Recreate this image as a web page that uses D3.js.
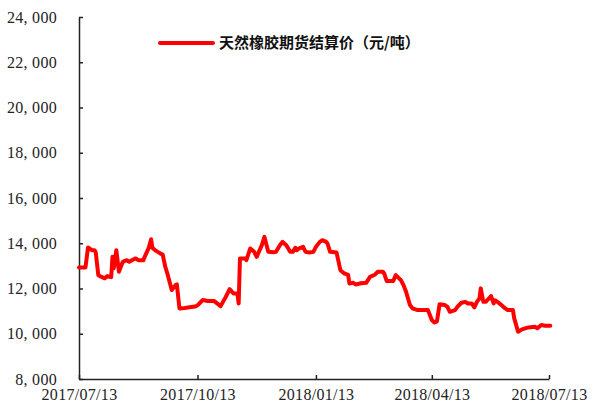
<!DOCTYPE html>
<html>
<head>
<meta charset="utf-8">
<script src="https://cdn.jsdelivr.net/npm/d3@7"></script>
<style>
  body { margin: 0; background: #fff; }
</style>
</head>
<body>
<div id="chart"></div>
<script>
const seriesName = "天然橡胶期货结算价（元/吨）";

const dates = [
  "2017-07-13", "2017-07-18", "2017-07-20", "2017-07-23", "2017-07-25", "2017-07-26",
  "2017-07-28", "2017-07-31", "2017-08-02", "2017-08-04", "2017-08-07", "2017-08-08",
  "2017-08-09", "2017-08-11", "2017-08-13", "2017-08-16", "2017-08-19", "2017-08-21",
  "2017-08-23", "2017-08-26", "2017-08-28", "2017-09-01", "2017-09-02", "2017-09-05",
  "2017-09-07", "2017-09-08", "2017-09-10", "2017-09-14", "2017-09-16", "2017-09-18",
  "2017-09-20", "2017-09-23", "2017-09-26", "2017-09-27", "2017-09-29", "2017-10-03",
  "2017-10-11", "2017-10-13", "2017-10-17", "2017-10-21", "2017-10-26", "2017-10-31",
  "2017-11-04", "2017-11-07", "2017-11-10", "2017-11-13", "2017-11-14", "2017-11-15",
  "2017-11-19", "2017-11-20", "2017-11-23", "2017-11-26", "2017-11-28", "2017-12-02",
  "2017-12-04", "2017-12-07", "2017-12-11", "2017-12-13", "2017-12-16", "2017-12-18",
  "2017-12-21", "2017-12-24", "2017-12-26", "2017-12-28", "2017-12-29", "2017-12-31",
  "2018-01-03", "2018-01-05", "2018-01-08", "2018-01-11", "2018-01-13", "2018-01-16",
  "2018-01-18", "2018-01-21", "2018-01-22", "2018-01-24", "2018-01-29", "2018-01-30",
  "2018-02-01", "2018-02-04", "2018-02-07", "2018-02-08", "2018-02-11", "2018-02-13",
  "2018-02-17", "2018-02-21", "2018-02-24", "2018-02-28", "2018-03-02", "2018-03-06",
  "2018-03-07", "2018-03-09", "2018-03-14", "2018-03-16", "2018-03-20", "2018-03-22",
  "2018-03-24", "2018-03-27", "2018-03-29", "2018-04-02", "2018-04-10", "2018-04-13",
  "2018-04-15", "2018-04-17", "2018-04-19", "2018-04-23", "2018-04-25", "2018-04-27",
  "2018-05-01", "2018-05-03", "2018-05-06", "2018-05-09", "2018-05-11", "2018-05-14",
  "2018-05-16", "2018-05-18", "2018-05-20", "2018-05-21", "2018-05-23", "2018-05-25",
  "2018-05-26", "2018-05-29", "2018-05-31", "2018-06-01", "2018-06-03", "2018-06-06",
  "2018-06-09", "2018-06-11", "2018-06-15", "2018-06-16", "2018-06-19", "2018-06-22",
  "2018-06-27", "2018-07-02", "2018-07-04", "2018-07-07", "2018-07-10", "2018-07-14"
];

const prices = [
  12930, 12930, 13815, 13695, 13695, 13600,
  12590, 12500, 12450, 12550, 12500, 13400,
  12900, 13695, 12737, 13180, 13250, 13180,
  13250, 13330, 13250, 13250, 13400, 13770,
  14180, 13800, 13695, 13550, 13500, 12960,
  12590, 11930, 12150, 12180, 11120, 11140,
  11200, 11250, 11490, 11445, 11445, 11220,
  11630, 11970, 11780, 11780, 11340, 13330,
  13330, 13255, 13770, 13620, 13400, 13915,
  14280, 13620, 13600, 13620, 13915, 14060,
  13915, 13620, 13620, 13800, 13690, 13770,
  13840, 13620, 13590, 13620, 13840, 14060,
  14135, 14060, 13990, 13620, 13590, 13330,
  12810, 12665, 12600, 12225, 12250, 12180,
  12230, 12250, 12515, 12620, 12740, 12740,
  12665, 12330, 12330, 12590, 12370, 12150,
  11855, 11270, 11120, 11045, 11045, 10605,
  10500, 10550, 11300, 11270, 11200, 10970,
  11045, 11200, 11370, 11410, 11340, 11340,
  11165, 11410, 11560, 12005, 11410, 11410,
  11480, 11665, 11340, 11480, 11410, 11270,
  11120, 11045, 11045, 10680, 10090, 10195,
  10280, 10310, 10240, 10385, 10350, 10350
];

const xTickLabels = ["2017/07/13", "2017/10/13", "2018/01/13", "2018/04/13", "2018/07/13"];
const yTicks = [8000, 10000, 12000, 14000, 16000, 18000, 20000, 22000, 24000];

const width = 592, height = 408;
const margin = { top: 17, right: 43, bottom: 29, left: 79 };

const parseDate = d3.timeParse("%Y-%m-%d");
const parseTick = d3.timeParse("%Y/%m/%d");
const data = dates.map((d, i) => ({ date: parseDate(d), value: prices[i] }));

const x = d3.scaleTime()
  .domain([parseTick(xTickLabels[0]), parseTick(xTickLabels[xTickLabels.length - 1])])
  .range([margin.left, width - margin.right]);

const y = d3.scaleLinear()
  .domain([8000, 24000])
  .range([height - margin.bottom, margin.top]);

const svg = d3.select("#chart").append("svg")
  .attr("width", width)
  .attr("height", height);

const fmt = (d) => d3.format(",")(d).replace(",", ", ");

svg.append("g")
  .attr("transform", `translate(${margin.left},0)`)
  .call(d3.axisLeft(y).tickValues(yTicks).tickFormat(fmt).tickSizeInner(-4).tickSizeOuter(0).tickPadding(22));

svg.append("g")
  .attr("transform", `translate(0,${height - margin.bottom})`)
  .call(d3.axisBottom(x)
    .tickValues(xTickLabels.map(parseTick))
    .tickFormat(d3.timeFormat("%Y/%m/%d"))
    .tickSizeInner(-4).tickSizeOuter(0).tickPadding(10));

svg.selectAll(".domain").attr("stroke", "#222").attr("stroke-width", 1.5);
svg.selectAll(".tick line").attr("stroke", "#222").attr("stroke-width", 1.5);
svg.selectAll(".tick text")
  .attr("font-family", "'Liberation Serif', 'DejaVu Serif', serif")
  .attr("font-size", 16)
  .attr("letter-spacing", 0.3)
  .attr("fill", "#222");

const line = d3.line()
  .x((d) => x(d.date))
  .y((d) => y(d.value));

svg.append("path")
  .datum(data)
  .attr("fill", "none")
  .attr("stroke", "#ff0000")
  .attr("stroke-width", 4)
  .attr("stroke-linejoin", "round")
  .attr("stroke-linecap", "round")
  .attr("d", line);

// legend
const legend = svg.append("g").attr("transform", "translate(160,43)");
legend.append("line")
  .attr("x1", 0).attr("x2", 53)
  .attr("stroke", "#ff0000").attr("stroke-width", 4)
  .attr("stroke-linecap", "round");
legend.append("text")
  .attr("x", 59)
  .attr("dy", "0.35em")
  .attr("font-family", "'Noto Sans CJK SC', sans-serif")
  .attr("font-weight", "bold")
  .attr("font-size", 15)
  .attr("fill", "#111")
  .text(seriesName);
</script>
</body>
</html>
